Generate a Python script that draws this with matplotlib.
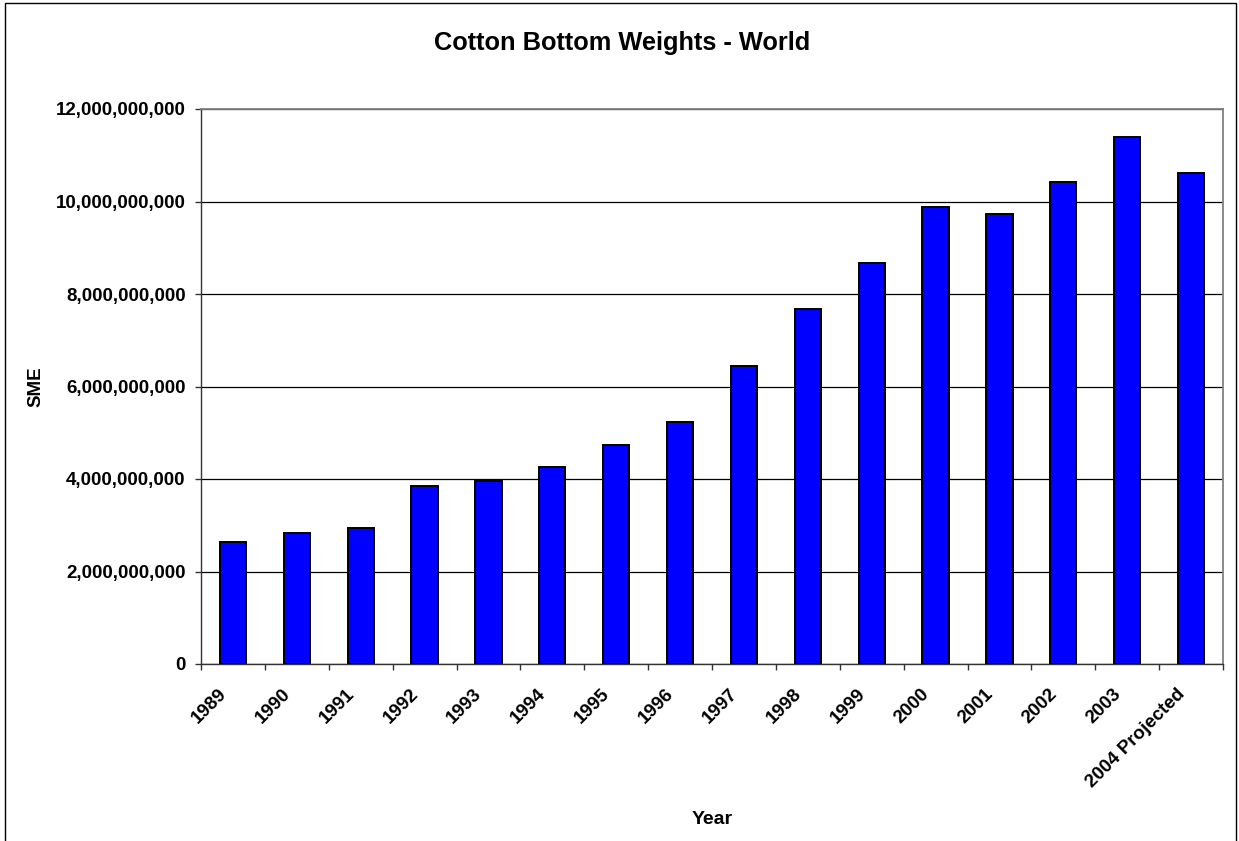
import matplotlib
matplotlib.use("Agg")
import matplotlib.pyplot as plt
from matplotlib.ticker import FuncFormatter, FixedLocator
from matplotlib.transforms import ScaledTranslation
from matplotlib.patches import Rectangle

plt.rcParams['font.family'] = ['Liberation Sans', 'DejaVu Sans']

# Square metre equivalents of cotton bottom-weight fabric, world total
years = ["1989", "1990", "1991", "1992", "1993", "1994", "1995", "1996",
         "1997", "1998", "1999", "2000", "2001", "2002", "2003",
         "2004 Projected"]
sme = [2_630_000_000, 2_840_000_000, 2_950_000_000, 3_840_000_000,
       3_950_000_000, 4_260_000_000, 4_730_000_000, 5_230_000_000,
       6_450_000_000, 7_670_000_000, 8_670_000_000, 9_880_000_000,
       9_740_000_000, 10_420_000_000, 11_390_000_000, 10_610_000_000]
y_ticks = [0, 2_000_000_000, 4_000_000_000, 6_000_000_000,
           8_000_000_000, 10_000_000_000, 12_000_000_000]

W, H, DPI = 1239, 841, 100
fig = plt.figure(figsize=(W / DPI, H / DPI), dpi=DPI)
fig.patch.set_facecolor("white")

# thin outer chart border
fig.add_artist(Rectangle((5 / W, -0.01), 1231 / W, 1 - 3 / H + 0.01,
                         transform=fig.transFigure, fill=False,
                         edgecolor="black", linewidth=1.0))

ax = fig.add_axes([201 / W, 1 - 664 / H, 1022 / W, 555 / H])

x = list(range(len(years)))
ax.bar(x, sme, width=0.41, color="#0000FF", edgecolor="black",
       linewidth=1.4, zorder=3)

ax.set_xlim(-0.5, len(years) - 0.5)
ax.set_ylim(0, 12_000_000_000)
ax.set_yticks(y_ticks)
ax.yaxis.set_major_formatter(FuncFormatter(lambda v, p: f"{v:,.0f}"))
ax.yaxis.grid(True, color="black", linewidth=0.9, zorder=0)
ax.set_axisbelow(True)

# category boundary ticks (unlabelled) and centred labels
ax.xaxis.set_major_locator(FixedLocator([i - 0.5 for i in range(len(years) + 1)]))
ax.xaxis.set_major_formatter(FuncFormatter(lambda v, p: ""))
ax.set_xticks(x, minor=True)
ax.set_xticklabels(years, minor=True, rotation=45, ha="right", va="center",
                   rotation_mode="anchor", fontsize=13.5, fontweight="bold")
ax.tick_params(axis="x", which="major", direction="out", length=4,
               width=1, color="#333333")
ax.tick_params(axis="x", which="minor", length=0, pad=20)
ax.tick_params(axis="y", direction="out", length=4, width=1,
               color="#333333", pad=7, labelsize=13.5)
for lab in ax.get_yticklabels():
    lab.set_fontweight("bold")
shift = ScaledTranslation(-9 / DPI, 0, fig.dpi_scale_trans)
for lab in ax.xaxis.get_minorticklabels():
    lab.set_transform(lab.get_transform() + shift)

for side in ("left", "bottom"):
    ax.spines[side].set_color("#333333")
    ax.spines[side].set_linewidth(1.0)
for side in ("top", "right"):
    ax.spines[side].set_color("#808080")
    ax.spines[side].set_linewidth(1.3)

ax.set_ylabel("SME", fontsize=13.5, fontweight="bold", va="center")
ax.yaxis.set_label_coords(-0.161, 0.5)
ax.set_xlabel("Year", fontsize=14, fontweight="bold", va="center")
ax.xaxis.set_label_coords(0.5, -0.281)

fig.text(622 / W, 1 - 43 / H, "Cotton Bottom Weights - World",
         ha="center", va="center", fontsize=18.3, fontweight="bold")

fig.savefig("out.png", dpi=DPI)
